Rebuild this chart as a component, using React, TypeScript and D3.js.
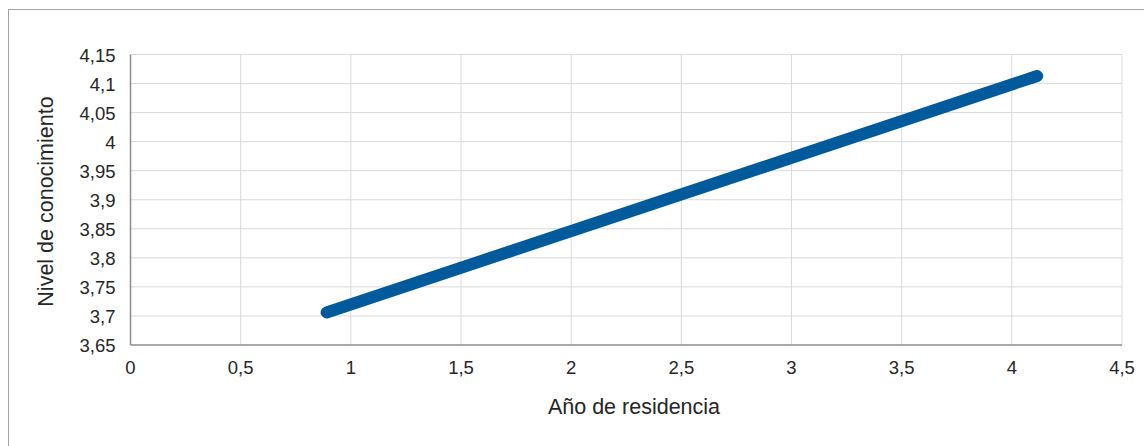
import React from "react";
import * as d3 from "d3";

const xTicks = [0, 0.5, 1, 1.5, 2, 2.5, 3, 3.5, 4, 4.5];
const yTicks = [3.65, 3.7, 3.75, 3.8, 3.85, 3.9, 3.95, 4, 4.05, 4.1, 4.15];
const years = [0.89, 4.115];
const knowledge = [3.706, 4.113];

const W = 1144;
const H = 446;
const margin = { top: 54.5, right: 22, bottom: 101, left: 130.5 };
const fmt = (v: number) => String(+v.toFixed(2)).replace(".", ",");

export default function App() {
  const x = d3.scaleLinear().domain([0, 4.5]).range([margin.left, W - margin.right]);
  const y = d3.scaleLinear().domain([3.65, 4.15]).range([H - margin.bottom, margin.top]);
  const points = years.map((v, i) => [v, knowledge[i]] as [number, number]);
  const line = d3
    .line<[number, number]>()
    .x((d) => x(d[0]))
    .y((d) => y(d[1]));
  const font = "Liberation Sans, Arial, sans-serif";

  return (
    <svg
      width={W}
      height={H}
      style={{ position: "absolute", left: 0, top: 0, background: "#fff" }}
      fontFamily={font}
    >
      <rect x={8.5} y={9.5} width={W + 20} height={H + 20} fill="none" stroke="#a6a6a6" />
      {/* gridlines */}
      {xTicks.slice(1).map((t) => (
        <line key={"gx" + t} x1={x(t)} x2={x(t)} y1={y(4.15)} y2={y(3.65)} stroke="#d9d9d9" />
      ))}
      {yTicks.slice(1).map((t) => (
        <line key={"gy" + t} x1={x(0)} x2={x(4.5)} y1={y(t)} y2={y(t)} stroke="#d9d9d9" />
      ))}
      {/* axes */}
      <line x1={x(0)} x2={x(0)} y1={y(4.15)} y2={y(3.65)} stroke="#8c8c8c" strokeWidth={1.5} />
      <line x1={x(0)} x2={x(4.5)} y1={y(3.65)} y2={y(3.65)} stroke="#8c8c8c" strokeWidth={1.5} />
      {xTicks.map((t) => (
        <text key={"tx" + t} x={x(t)} y={y(3.65) + 29} textAnchor="middle" fontSize={18.5} fill="#262626">
          {fmt(t)}
        </text>
      ))}
      {yTicks.map((t) => (
        <text key={"ty" + t} x={x(0) - 15} y={y(t) + 7} textAnchor="end" fontSize={18.5} fill="#262626">
          {fmt(t)}
        </text>
      ))}
      <path d={line(points) || ""} fill="none" stroke="#005a9c" strokeWidth={12} strokeLinecap="round" />
      <text x={634} y={413.5} textAnchor="middle" fontSize={21.5} fill="#262626">
        Año de residencia
      </text>
      <text
        transform={`translate(52.5,201.5) rotate(-90)`}
        textAnchor="middle"
        fontSize={21.5}
        fill="#262626"
      >
        Nivel de conocimiento
      </text>
    </svg>
  );
}
